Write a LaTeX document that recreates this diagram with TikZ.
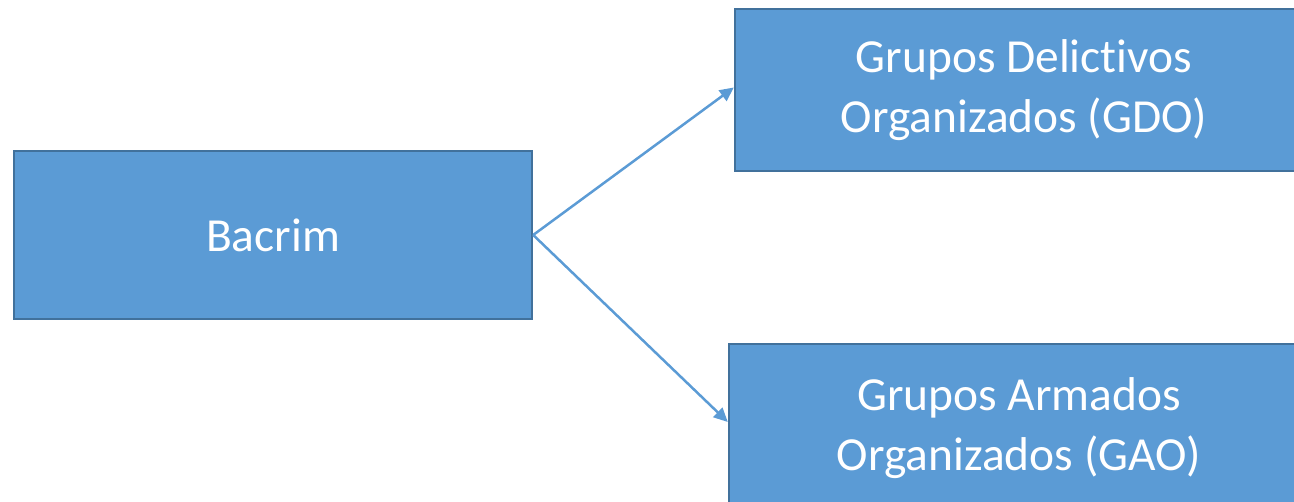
\documentclass[tikz,border=0pt]{standalone}
\usepackage{fontspec}
\setmainfont{Carlito}[RawFeature={-liga;-clig;-calt;-dlig}]
\usetikzlibrary{positioning}
\usetikzlibrary{arrows.meta}
\definecolor{cajaazul}{HTML}{5B9BD5}
\definecolor{bordeazul}{HTML}{41719C}

\begin{document}
\begin{tikzpicture}[x=0.02cm,y=-0.02cm,
  caja/.style={draw=bordeazul, fill=cajaazul, line width=0.5mm, text=white, align=center, font=\fontsize{27}{34}\selectfont, inner sep=0pt},
  flecha/.style={cajaazul, line width=0.5mm, -{Triangle[length=2.8mm,width=2.6mm]}}]

\clip (0,0) rectangle (1294,502);
\useasboundingbox (0,0) rectangle (1294,502);

% cajas
{
\node[caja, minimum width=10.36cm, minimum height=3.36cm] (bacrim) at (273,235) {Bacrim};
\node[caja, minimum width=11.56cm, minimum height=3.24cm] (gdo) at (1024,90) {Grupos Delictivos\\Organizados (GDO)};
\node[caja, minimum width=11.6cm, minimum height=3.36cm] (gao) at (1019,428) {Grupos Armados\\Organizados (GAO)};
}

% flechas
\draw[flecha] (bacrim.east) -- ([yshift=0.05cm]gdo.west);
\draw[flecha] (bacrim.east) -- ([yshift=0.12cm]gao.west);

\end{tikzpicture}
\end{document}
